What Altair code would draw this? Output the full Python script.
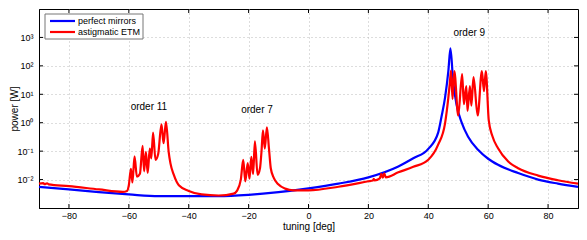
import altair as alt
import pandas as pd

# ---- data ----
series_names = ["perfect mirrors", "astigmatic ETM"]
series_colors = ["#0000ff", "#ff0000"]

blue_x = [-90, -80, -70, -60, -50, -40, -30, -20, -10, 0, 10, 20, 30, 35, 40,
          43.3, 44.4, 45.6, 46.7, 47.4, 48.3, 49.4, 51.1, 53.3, 56.7, 60, 63.3,
          70, 76.7, 83.3, 90]
blue_p = [5.5e-3, 4.5e-3, 3.6e-3, 3.0e-3, 2.6e-3, 2.6e-3, 2.6e-3, 2.9e-3, 3.6e-3,
          4.9e-3, 7.2e-3, 1.2e-2, 2.9e-2, 5.6e-2, 0.12,
          0.45, 1.6, 7.6, 65, 410, 29, 4.5, 1.05, 0.32, 0.11, 0.054, 0.033,
          0.017, 0.010, 7.2e-3, 5.5e-3]

red_x = [-90, -88.6, -88.1, -87.3, -86.8, -80, -70, -62, -60.6, -60.0, -59.3,
         -58.8, -58.1, -57.3, -56.3, -55.4, -54.9, -54.3, -53.7, -53.0, -52.5,
         -51.9, -51.1, -50.2, -49.1, -48.4, -47.6, -46.7, -46.1, -45.0, -43.3,
         -40, -35.7, -30, -25, -23.9, -22.6, -21.8, -21.1, -20.3, -19.7, -19.1,
         -18.5, -17.9, -17.0, -16.2, -15.7, -15.2, -14.6, -13.9, -13.2, -12.6,
         -11.6, -10.1, -7.8, -5, 0, 10, 20, 21.5, 21.8, 22.1, 23.8, 24.3, 24.8,
         25.3, 25.8, 30, 35, 40, 43.3, 45.6, 46.7, 47.2, 47.6, 48.1, 48.7, 50.0,
         51.3, 51.9, 52.7, 53.1, 53.9, 54.4, 55.1, 56.5, 57.9, 58.6, 59.2, 60.2,
         61.4, 63.3, 66.7, 70, 76.7, 83.3, 90]
red_p = [7.2e-3, 7.5e-3, 6.9e-3, 7.4e-3, 6.8e-3, 5.9e-3, 4.5e-3, 3.7e-3, 4.0e-3,
         6.3e-3, 0.024, 7.9e-3, 0.065, 0.0126, 0.016, 0.155, 0.0195, 0.095,
         0.017, 0.123, 0.056, 0.45, 0.049, 0.079, 0.87, 0.19, 1.07, 0.095, 0.037,
         0.0148, 6.3e-3, 4.0e-3, 3.0e-3, 2.75e-3, 3.2e-3, 4.0e-3, 0.010, 0.049,
         8.7e-3, 0.038, 0.0107, 0.063, 0.0158, 0.22, 0.0148, 0.025, 0.095, 0.54,
         0.123, 0.69, 0.123, 0.025, 0.0115, 6.8e-3, 4.8e-3, 4.2e-3, 4.2e-3,
         5.6e-3, 8.7e-3, 9.3e-3, 0.0107, 9.3e-3, 0.011, 0.0158, 0.0117, 0.0166,
         0.012, 0.018, 0.028, 0.05, 0.17, 0.95, 7.6, 25, 68, 6.8, 65, 1.8, 51,
         4.5, 19.5, 2.6, 19.5, 4.0, 40, 1.8, 65, 12.9, 65, 1.2, 0.34, 0.126,
         0.043, 0.025, 0.0138, 9.5e-3, 7.2e-3]

x_ticks = [-80, -60, -40, -20, 0, 20, 40, 60, 80]
y_ticks = [1e-2, 1e-1, 1, 10, 100, 1000]
y_tick_labels = ["10\u207b\u00b2", "10\u207b\u00b9", "10\u2070", "10\u00b9", "10\u00b2", "10\u00b3"]

ann_text = ["order 11", "order 7", "order 9"]
ann_x = [-53.3, -17.2, 53.7]
ann_y = [3.5, 2.75, 1400]

W, H = 539, 199
FONT = "Liberation Sans"

df_blue = pd.DataFrame({"tuning": blue_x, "power": blue_p})
df_red = pd.DataFrame({"tuning": red_x, "power": red_p})
df_xt = pd.DataFrame({"tuning": x_ticks})
df_yt = pd.DataFrame({"power": y_ticks})
df_ann = pd.DataFrame({"tuning": ann_x, "power": ann_y, "label": ann_text})
df_one = pd.DataFrame({"k": [0]})

xscale = alt.Scale(domain=[-90, 90], nice=False, zero=False)
yscale = alt.Scale(type="log", domain=[1e-3, 1e4], nice=False)

label_expr = "[" + ",".join("'%s'" % s for s in y_tick_labels) + "][round(log(datum.value)/LN10)+2]"

blue = alt.Chart(df_blue).mark_line(color=series_colors[0], strokeWidth=2.2, interpolate="monotone").encode(
    x=alt.X("tuning:Q", scale=xscale,
            axis=alt.Axis(values=x_ticks, title="tuning [deg]", ticks=False,
                          labelPadding=10, labelBaseline="alphabetic",
                          titleY=21, titleBaseline="alphabetic")),
    y=alt.Y("power:Q", scale=yscale,
            axis=alt.Axis(values=y_ticks, title="power [W]", ticks=False,
                          labelPadding=6, labelExpr=label_expr,
                          titleX=-25, titleBaseline="middle")),
)
red = alt.Chart(df_red).mark_line(color=series_colors[1], strokeWidth=2.2, interpolate="monotone").encode(
    x="tuning:Q", y="power:Q")

tick_top = alt.Chart(df_xt).mark_rule(color="black", strokeWidth=1).encode(
    x="tuning:Q", y=alt.value(0), y2=alt.value(4))
tick_bot = alt.Chart(df_xt).mark_rule(color="black", strokeWidth=1).encode(
    x="tuning:Q", y=alt.value(H), y2=alt.value(H - 4))
tick_left = alt.Chart(df_yt).mark_rule(color="black", strokeWidth=1).encode(
    y="power:Q", x=alt.value(0), x2=alt.value(4))
tick_right = alt.Chart(df_yt).mark_rule(color="black", strokeWidth=1).encode(
    y="power:Q", x=alt.value(W), x2=alt.value(W - 4))

ann = alt.Chart(df_ann).mark_text(font=FONT, fontSize=10, color="black", baseline="middle").encode(
    x="tuning:Q", y="power:Q", text="label:N")

# legend box (drawn by hand to match the MATLAB style)
leg_box = alt.Chart(df_one).mark_rect(fill="white", stroke="#777777", strokeWidth=1).encode(
    x=alt.value(6), x2=alt.value(104), y=alt.value(5), y2=alt.value(30))
leg_l1 = alt.Chart(df_one).mark_rule(color=series_colors[0], strokeWidth=2.2).encode(
    x=alt.value(11), x2=alt.value(36), y=alt.value(12))
leg_l2 = alt.Chart(df_one).mark_rule(color=series_colors[1], strokeWidth=2.2).encode(
    x=alt.value(11), x2=alt.value(36), y=alt.value(23))
leg_t1 = alt.Chart(df_one).mark_text(font=FONT, fontSize=9, align="left", baseline="middle", color="black").encode(
    x=alt.value(39), y=alt.value(12), text=alt.value(series_names[0]))
leg_t2 = alt.Chart(df_one).mark_text(font=FONT, fontSize=9, align="left", baseline="middle", color="black").encode(
    x=alt.value(39), y=alt.value(23), text=alt.value(series_names[1]))

chart = alt.layer(
    blue, red, tick_top, tick_bot, tick_left, tick_right, ann,
    leg_box, leg_l1, leg_l2, leg_t1, leg_t2
).properties(
    width=W, height=H,
    autosize=alt.AutoSizeParams(type="none"),
    padding={"left": 31, "top": 1, "right": 1, "bottom": 24},
).configure_view(
    stroke="black", strokeWidth=1
).configure_axis(
    labelFont=FONT, titleFont=FONT, labelFontSize=9, titleFontSize=10,
    titleFontWeight="normal", labelColor="black", titleColor="black",
    domainColor="black", gridColor="#bbbbbb", gridDash=[1, 3], gridWidth=1,
)

chart.save("out.html", embed_options={"renderer": "svg", "actions": False})
